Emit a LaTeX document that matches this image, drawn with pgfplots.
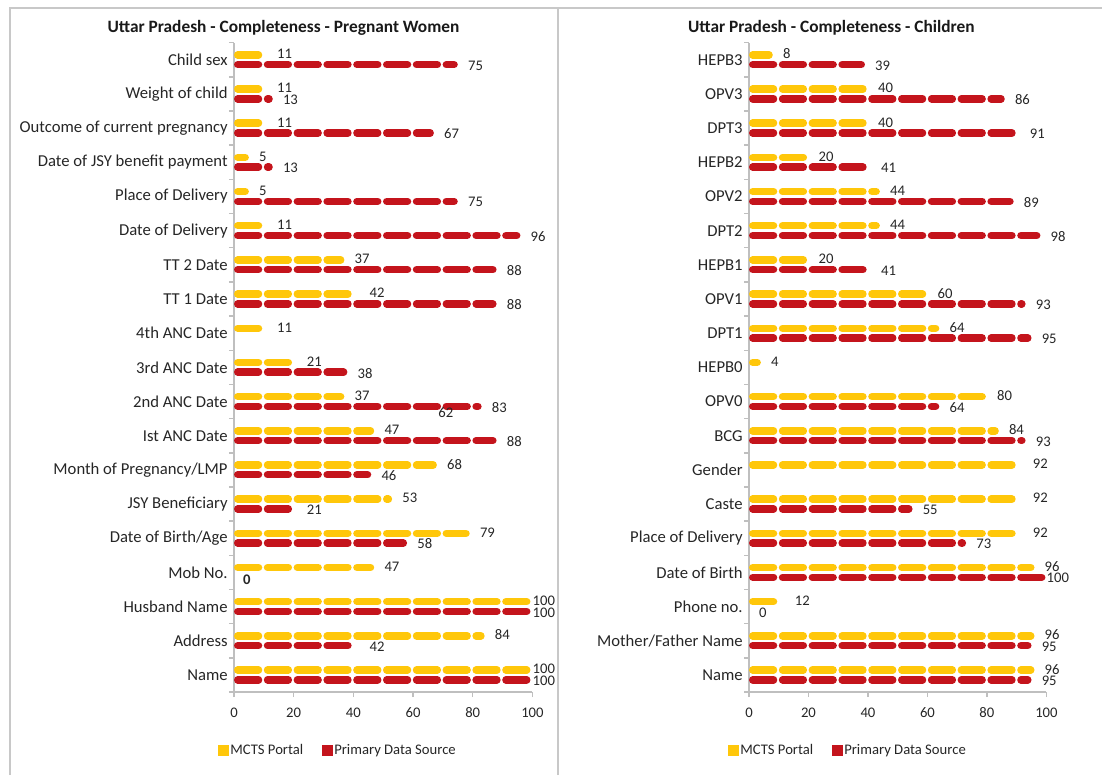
\documentclass[border=0pt]{standalone}
\usepackage{pgfplots}
\pgfplotsset{compat=1.18}
\usepackage{pgfplotstable}
\usepackage{fontspec}
\setmainfont{Carlito}

\definecolor{mcts}{RGB}{255,199,10}
\definecolor{pds}{RGB}{196,20,28}
\definecolor{axgrey}{RGB}{191,191,191}
\definecolor{framegrey}{RGB}{200,200,200}
\definecolor{txt}{RGB}{38,38,38}

% Completeness (%) per data field; pos 0 = bottom row of the chart
\pgfplotstableread{
pos val
0 100
1 84
2 100
3 47
4 79
5 53
6 68
7 47
8 37
9 21
10 11
11 42
12 37
13 11
14 5
15 5
16 11
17 11
18 11
}\pwPortal
\pgfplotstableread{
pos val
0 100
1 42
2 100
4 58
5 21
6 46
7 88
8 83
9 38
11 88
12 88
13 96
14 75
15 13
16 67
17 13
18 75
}\pwPrimary
% fields with 0 % completeness (label only, no bar)
\pgfplotstableread{
pos val
3 0
}\pwPrimaryZero
\pgfplotstableread{
pos val
0 96
1 96
2 12
3 96
4 92
5 92
6 92
7 84
8 80
9 4
10 64
11 60
12 20
13 44
14 44
15 20
16 40
17 40
18 8
}\chPortal
\pgfplotstableread{
pos val
0 95
1 95
3 100
4 73
5 55
7 93
8 64
10 95
11 93
12 41
13 98
14 89
15 41
16 91
17 86
18 39
}\chPrimary
\pgfplotstableread{
pos val
2 0
}\chPrimaryZero

\pgfplotsset{
  panel/.style={
    scale only axis, width=223.8pt, height=487pt,
    xmin=0, xmax=100, ymin=-0.5, ymax=18.5,
    axis x line*=bottom, axis y line*=left,
    axis line style={axgrey, line width=1.1pt, -},
    xtick={0,20,...,100}, ytick={0,...,18},
    minor ytick={-0.5,0.5,...,18.5},
    tick align=outside, major tick length=3.75pt, minor tick length=3.75pt,
    major y tick style={draw=none},
    minor y tick style={axgrey, line width=1.1pt},
    major x tick style={axgrey, line width=1.1pt},
    /pgf/number format/assume math mode=true,
    xticklabel style={font=\fontsize{11}{13}\selectfont, text=txt, yshift=-4.5pt},
    yticklabel style={font=\fontsize{12.5}{15}\selectfont, text=txt, xshift=2.5pt},
    clip=false,
    legend columns=2,
    legend style={draw=none, fill=none, inner sep=0pt, anchor=west,
      font=\fontsize{11}{13}\selectfont,
      nodes={inner sep=1.2pt, text=txt},
      /tikz/every even column/.append style={column sep=13pt}},
  },
  % a bar: a thick dashed stroke with round caps from 0 to the value
  seg/.style={draw=none, mark=none, forget plot,
    error bars/.cd, x dir=plus, x explicit, error mark=none,
    error bar style={draw=#1, line width=5.6pt, line cap=round,
      dash pattern=on 15.6pt off 6.75pt,
      shorten <=2.8pt, shorten >=2.8pt}},
  vals/.style={draw=none, mark=none, forget plot,
    nodes near coords, point meta=explicit,
    nodes near coords style={anchor=west, inner sep=0pt, text=txt,
      font=\fontsize{11}{13}\selectfont}},
}

\begin{document}
\begin{tikzpicture}
\useasboundingbox (0,0) rectangle (826.5pt,581.25pt);
% panel frames
\draw[framegrey, line width=1.5pt] (7.125pt,0) -- (7.125pt,574.875pt) -- (826.5pt,574.875pt);
\draw[framegrey, line width=1.5pt] (418.5pt,0) -- (418.5pt,574.875pt);

\node[font=\bfseries\fontsize{13}{15}\selectfont, text=black!90] at (212.6pt,560.5pt)
  {Uttar Pradesh - Completeness - Pregnant Women};
\node[font=\bfseries\fontsize{13}{15}\selectfont, text=black!90] at (623.5pt,560.5pt)
  {Uttar Pradesh - Completeness - Children};

\begin{axis}[panel, at={(175.5pt,62.25pt)}, anchor=south west,
  yticklabels={Name, Address, Husband Name, Mob No., Date of Birth/Age,
    JSY Beneficiary, Month of Pregnancy/LMP, Ist ANC Date, 2nd ANC Date,
    3rd ANC Date, 4th ANC Date, TT 1 Date, TT 2 Date, Date of Delivery,
    Place of Delivery, Date of JSY benefit payment,
    Outcome of current pregnancy, Weight of child, Child sex},
  legend style={at={(-0.0536,-0.0893)}}]
\addplot[seg=mcts] table[x expr=0, y expr=\thisrow{pos}+0.143, x error=val] {\pwPortal};
\addplot[seg=pds] table[x expr=0, y expr=\thisrow{pos}-0.143, x error=val] {\pwPrimary};
% value labels sit 10px right of the bar end (at the frame edge for 100)
\addplot[vals] table[x expr={ifthenelse(\thisrow{val}>99.5,100,\thisrow{val}+3.35)},
  y expr=\thisrow{pos}+0.17, meta=val] {\pwPortal};
\addplot[vals] table[x expr={ifthenelse(\thisrow{val}>99.5,100,\thisrow{val}+3.35)},
  y expr=\thisrow{pos}-0.17, meta=val] {\pwPrimary};
\addplot[vals, nodes near coords style={font=\bfseries\fontsize{11}{13}\selectfont}]
  table[x expr=\thisrow{val}+3.0, y expr=\thisrow{pos}-0.22, meta=val] {\pwPrimaryZero};
\node[anchor=west, inner sep=0pt, text=txt, font=\fontsize{11}{13}\selectfont]
  at (axis cs:68.4,7.69) {62};
\addlegendimage{legend image code/.code={\fill[mcts] (0pt,-3.75pt) rectangle (7.5pt,3.75pt);}}
\addlegendentry{MCTS Portal}
\addlegendimage{legend image code/.code={\fill[pds] (0pt,-3.75pt) rectangle (7.5pt,3.75pt);}}
\addlegendentry{Primary Data Source}
\end{axis}

\begin{axis}[panel, at={(561.75pt,62.25pt)}, anchor=south west, width=223.05pt,
  yticklabels={Name, Mother/Father Name, Phone no., Date of Birth,
    Place of Delivery, Caste, Gender, BCG, OPV0, HEPB0, DPT1, OPV1, HEPB1,
    DPT2, OPV2, HEPB2, DPT3, OPV3, HEPB3},
  legend style={at={(-0.0706,-0.0893)}}]
\addplot[seg=mcts] table[x expr=0, y expr=\thisrow{pos}+0.143, x error=val] {\chPortal};
\addplot[seg=pds] table[x expr=0, y expr=\thisrow{pos}-0.143, x error=val] {\chPrimary};
\addplot[vals] table[x expr={ifthenelse(\thisrow{val}>99.5,100,\thisrow{val}+3.35)},
  y expr=\thisrow{pos}+0.17, meta=val] {\chPortal};
\addplot[vals] table[x expr={ifthenelse(\thisrow{val}>99.5,100,\thisrow{val}+3.35)},
  y expr=\thisrow{pos}-0.17, meta=val] {\chPrimary};
\addplot[vals] table[x expr=\thisrow{val}+3.35, y expr=\thisrow{pos}-0.17, meta=val] {\chPrimaryZero};
\addlegendimage{legend image code/.code={\fill[mcts] (0pt,-3.75pt) rectangle (7.5pt,3.75pt);}}
\addlegendentry{MCTS Portal}
\addlegendimage{legend image code/.code={\fill[pds] (0pt,-3.75pt) rectangle (7.5pt,3.75pt);}}
\addlegendentry{Primary Data Source}
\end{axis}
\end{tikzpicture}
\end{document}
